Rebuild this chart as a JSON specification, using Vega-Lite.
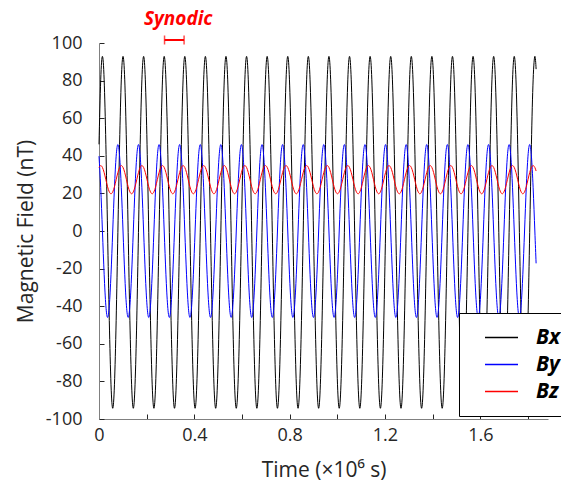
{
"$schema":"https://vega.github.io/schema/vega-lite/v6.json",
"width":449,"height":376,"autosize":"none",
"padding":{"left":99,"top":43,"right":13,"bottom":65},
"background":"white",
"config":{"view":{"stroke":null},"font":"Open Sans","axis":{"labelOverlap":false,"labelBound":false}},
"datasets":{"field":[
{"t":0,"Bx":46.1,"By":39.8,"Bz":33.8},{"t":0.0072,"Bx":80.4,"By":23,"Bz":34.8},{"t":0.0144,"Bx":92.9,"By":0,"Bz":33.8},{"t":0.0216,"Bx":80.4,"By":-23,"Bz":31.1},{"t":0.0288,"Bx":46.1,"By":-39.8,"Bz":27.3},{"t":0.036,"Bx":-0.7,"By":-46,"Bz":23.5},{"t":0.0432,"Bx":-47.5,"By":-39.8,"Bz":20.8},{"t":0.0504,"Bx":-81.8,"By":-23,"Bz":19.8},{"t":0.0576,"Bx":-94.3,"By":0,"Bz":20.8},{"t":0.0648,"Bx":-81.8,"By":23,"Bz":23.5},{"t":0.072,"Bx":-47.5,"By":39.8,"Bz":27.3},{"t":0.0792,"Bx":-0.7,"By":46,"Bz":31.1},
{"t":0.0864,"Bx":46.1,"By":39.8,"Bz":33.8},{"t":0.0936,"Bx":80.4,"By":23,"Bz":34.8},{"t":0.1008,"Bx":92.9,"By":0,"Bz":33.8},{"t":0.108,"Bx":80.4,"By":-23,"Bz":31.1},{"t":0.1152,"Bx":46.1,"By":-39.8,"Bz":27.3},{"t":0.1224,"Bx":-0.7,"By":-46,"Bz":23.5},{"t":0.1296,"Bx":-47.5,"By":-39.8,"Bz":20.8},{"t":0.1368,"Bx":-81.8,"By":-23,"Bz":19.8},{"t":0.144,"Bx":-94.3,"By":0,"Bz":20.8},{"t":0.1512,"Bx":-81.8,"By":23,"Bz":23.5},{"t":0.1584,"Bx":-47.5,"By":39.8,"Bz":27.3},{"t":0.1656,"Bx":-0.7,"By":46,"Bz":31.1},
{"t":0.1728,"Bx":46.1,"By":39.8,"Bz":33.8},{"t":0.18,"Bx":80.4,"By":23,"Bz":34.8},{"t":0.1872,"Bx":92.9,"By":0,"Bz":33.8},{"t":0.1944,"Bx":80.4,"By":-23,"Bz":31.1},{"t":0.2016,"Bx":46.1,"By":-39.8,"Bz":27.3},{"t":0.2088,"Bx":-0.7,"By":-46,"Bz":23.5},{"t":0.216,"Bx":-47.5,"By":-39.8,"Bz":20.8},{"t":0.2232,"Bx":-81.8,"By":-23,"Bz":19.8},{"t":0.2304,"Bx":-94.3,"By":0,"Bz":20.8},{"t":0.2376,"Bx":-81.8,"By":23,"Bz":23.5},{"t":0.2448,"Bx":-47.5,"By":39.8,"Bz":27.3},{"t":0.252,"Bx":-0.7,"By":46,"Bz":31.1},
{"t":0.2592,"Bx":46.1,"By":39.8,"Bz":33.8},{"t":0.2664,"Bx":80.4,"By":23,"Bz":34.8},{"t":0.2736,"Bx":92.9,"By":0,"Bz":33.8},{"t":0.2808,"Bx":80.4,"By":-23,"Bz":31.1},{"t":0.288,"Bx":46.1,"By":-39.8,"Bz":27.3},{"t":0.2952,"Bx":-0.7,"By":-46,"Bz":23.5},{"t":0.3024,"Bx":-47.5,"By":-39.8,"Bz":20.8},{"t":0.3096,"Bx":-81.8,"By":-23,"Bz":19.8},{"t":0.3168,"Bx":-94.3,"By":0,"Bz":20.8},{"t":0.324,"Bx":-81.8,"By":23,"Bz":23.5},{"t":0.3312,"Bx":-47.5,"By":39.8,"Bz":27.3},{"t":0.3384,"Bx":-0.7,"By":46,"Bz":31.1},
{"t":0.3456,"Bx":46.1,"By":39.8,"Bz":33.8},{"t":0.3528,"Bx":80.4,"By":23,"Bz":34.8},{"t":0.36,"Bx":92.9,"By":0,"Bz":33.8},{"t":0.3672,"Bx":80.4,"By":-23,"Bz":31.1},{"t":0.3744,"Bx":46.1,"By":-39.8,"Bz":27.3},{"t":0.3816,"Bx":-0.7,"By":-46,"Bz":23.5},{"t":0.3888,"Bx":-47.5,"By":-39.8,"Bz":20.8},{"t":0.396,"Bx":-81.8,"By":-23,"Bz":19.8},{"t":0.4032,"Bx":-94.3,"By":0,"Bz":20.8},{"t":0.4104,"Bx":-81.8,"By":23,"Bz":23.5},{"t":0.4176,"Bx":-47.5,"By":39.8,"Bz":27.3},{"t":0.4248,"Bx":-0.7,"By":46,"Bz":31.1},
{"t":0.432,"Bx":46.1,"By":39.8,"Bz":33.8},{"t":0.4392,"Bx":80.4,"By":23,"Bz":34.8},{"t":0.4464,"Bx":92.9,"By":0,"Bz":33.8},{"t":0.4536,"Bx":80.4,"By":-23,"Bz":31.1},{"t":0.4608,"Bx":46.1,"By":-39.8,"Bz":27.3},{"t":0.468,"Bx":-0.7,"By":-46,"Bz":23.5},{"t":0.4752,"Bx":-47.5,"By":-39.8,"Bz":20.8},{"t":0.4824,"Bx":-81.8,"By":-23,"Bz":19.8},{"t":0.4896,"Bx":-94.3,"By":0,"Bz":20.8},{"t":0.4968,"Bx":-81.8,"By":23,"Bz":23.5},{"t":0.504,"Bx":-47.5,"By":39.8,"Bz":27.3},{"t":0.5112,"Bx":-0.7,"By":46,"Bz":31.1},
{"t":0.5184,"Bx":46.1,"By":39.8,"Bz":33.8},{"t":0.5256,"Bx":80.4,"By":23,"Bz":34.8},{"t":0.5328,"Bx":92.9,"By":0,"Bz":33.8},{"t":0.54,"Bx":80.4,"By":-23,"Bz":31.1},{"t":0.5472,"Bx":46.1,"By":-39.8,"Bz":27.3},{"t":0.5544,"Bx":-0.7,"By":-46,"Bz":23.5},{"t":0.5616,"Bx":-47.5,"By":-39.8,"Bz":20.8},{"t":0.5688,"Bx":-81.8,"By":-23,"Bz":19.8},{"t":0.576,"Bx":-94.3,"By":0,"Bz":20.8},{"t":0.5832,"Bx":-81.8,"By":23,"Bz":23.5},{"t":0.5904,"Bx":-47.5,"By":39.8,"Bz":27.3},{"t":0.5976,"Bx":-0.7,"By":46,"Bz":31.1},
{"t":0.6048,"Bx":46.1,"By":39.8,"Bz":33.8},{"t":0.612,"Bx":80.4,"By":23,"Bz":34.8},{"t":0.6192,"Bx":92.9,"By":0,"Bz":33.8},{"t":0.6264,"Bx":80.4,"By":-23,"Bz":31.1},{"t":0.6336,"Bx":46.1,"By":-39.8,"Bz":27.3},{"t":0.6408,"Bx":-0.7,"By":-46,"Bz":23.5},{"t":0.648,"Bx":-47.5,"By":-39.8,"Bz":20.8},{"t":0.6552,"Bx":-81.8,"By":-23,"Bz":19.8},{"t":0.6624,"Bx":-94.3,"By":0,"Bz":20.8},{"t":0.6696,"Bx":-81.8,"By":23,"Bz":23.5},{"t":0.6768,"Bx":-47.5,"By":39.8,"Bz":27.3},{"t":0.684,"Bx":-0.7,"By":46,"Bz":31.1},
{"t":0.6912,"Bx":46.1,"By":39.8,"Bz":33.8},{"t":0.6984,"Bx":80.4,"By":23,"Bz":34.8},{"t":0.7056,"Bx":92.9,"By":0,"Bz":33.8},{"t":0.7128,"Bx":80.4,"By":-23,"Bz":31.1},{"t":0.72,"Bx":46.1,"By":-39.8,"Bz":27.3},{"t":0.7272,"Bx":-0.7,"By":-46,"Bz":23.5},{"t":0.7344,"Bx":-47.5,"By":-39.8,"Bz":20.8},{"t":0.7416,"Bx":-81.8,"By":-23,"Bz":19.8},{"t":0.7488,"Bx":-94.3,"By":0,"Bz":20.8},{"t":0.756,"Bx":-81.8,"By":23,"Bz":23.5},{"t":0.7632,"Bx":-47.5,"By":39.8,"Bz":27.3},{"t":0.7704,"Bx":-0.7,"By":46,"Bz":31.1},
{"t":0.7776,"Bx":46.1,"By":39.8,"Bz":33.8},{"t":0.7848,"Bx":80.4,"By":23,"Bz":34.8},{"t":0.792,"Bx":92.9,"By":0,"Bz":33.8},{"t":0.7992,"Bx":80.4,"By":-23,"Bz":31.1},{"t":0.8064,"Bx":46.1,"By":-39.8,"Bz":27.3},{"t":0.8136,"Bx":-0.7,"By":-46,"Bz":23.5},{"t":0.8208,"Bx":-47.5,"By":-39.8,"Bz":20.8},{"t":0.828,"Bx":-81.8,"By":-23,"Bz":19.8},{"t":0.8352,"Bx":-94.3,"By":0,"Bz":20.8},{"t":0.8424,"Bx":-81.8,"By":23,"Bz":23.5},{"t":0.8496,"Bx":-47.5,"By":39.8,"Bz":27.3},{"t":0.8568,"Bx":-0.7,"By":46,"Bz":31.1},
{"t":0.864,"Bx":46.1,"By":39.8,"Bz":33.8},{"t":0.8712,"Bx":80.4,"By":23,"Bz":34.8},{"t":0.8784,"Bx":92.9,"By":0,"Bz":33.8},{"t":0.8856,"Bx":80.4,"By":-23,"Bz":31.1},{"t":0.8928,"Bx":46.1,"By":-39.8,"Bz":27.3},{"t":0.9,"Bx":-0.7,"By":-46,"Bz":23.5},{"t":0.9072,"Bx":-47.5,"By":-39.8,"Bz":20.8},{"t":0.9144,"Bx":-81.8,"By":-23,"Bz":19.8},{"t":0.9216,"Bx":-94.3,"By":0,"Bz":20.8},{"t":0.9288,"Bx":-81.8,"By":23,"Bz":23.5},{"t":0.936,"Bx":-47.5,"By":39.8,"Bz":27.3},{"t":0.9432,"Bx":-0.7,"By":46,"Bz":31.1},
{"t":0.9504,"Bx":46.1,"By":39.8,"Bz":33.8},{"t":0.9576,"Bx":80.4,"By":23,"Bz":34.8},{"t":0.9648,"Bx":92.9,"By":0,"Bz":33.8},{"t":0.972,"Bx":80.4,"By":-23,"Bz":31.1},{"t":0.9792,"Bx":46.1,"By":-39.8,"Bz":27.3},{"t":0.9864,"Bx":-0.7,"By":-46,"Bz":23.5},{"t":0.9936,"Bx":-47.5,"By":-39.8,"Bz":20.8},{"t":1.0008,"Bx":-81.8,"By":-23,"Bz":19.8},{"t":1.008,"Bx":-94.3,"By":0,"Bz":20.8},{"t":1.0152,"Bx":-81.8,"By":23,"Bz":23.5},{"t":1.0224,"Bx":-47.5,"By":39.8,"Bz":27.3},{"t":1.0296,"Bx":-0.7,"By":46,"Bz":31.1},
{"t":1.0368,"Bx":46.1,"By":39.8,"Bz":33.8},{"t":1.044,"Bx":80.4,"By":23,"Bz":34.8},{"t":1.0512,"Bx":92.9,"By":0,"Bz":33.8},{"t":1.0584,"Bx":80.4,"By":-23,"Bz":31.1},{"t":1.0656,"Bx":46.1,"By":-39.8,"Bz":27.3},{"t":1.0728,"Bx":-0.7,"By":-46,"Bz":23.5},{"t":1.08,"Bx":-47.5,"By":-39.8,"Bz":20.8},{"t":1.0872,"Bx":-81.8,"By":-23,"Bz":19.8},{"t":1.0944,"Bx":-94.3,"By":0,"Bz":20.8},{"t":1.1016,"Bx":-81.8,"By":23,"Bz":23.5},{"t":1.1088,"Bx":-47.5,"By":39.8,"Bz":27.3},{"t":1.116,"Bx":-0.7,"By":46,"Bz":31.1},
{"t":1.1232,"Bx":46.1,"By":39.8,"Bz":33.8},{"t":1.1304,"Bx":80.4,"By":23,"Bz":34.8},{"t":1.1376,"Bx":92.9,"By":0,"Bz":33.8},{"t":1.1448,"Bx":80.4,"By":-23,"Bz":31.1},{"t":1.152,"Bx":46.1,"By":-39.8,"Bz":27.3},{"t":1.1592,"Bx":-0.7,"By":-46,"Bz":23.5},{"t":1.1664,"Bx":-47.5,"By":-39.8,"Bz":20.8},{"t":1.1736,"Bx":-81.8,"By":-23,"Bz":19.8},{"t":1.1808,"Bx":-94.3,"By":0,"Bz":20.8},{"t":1.188,"Bx":-81.8,"By":23,"Bz":23.5},{"t":1.1952,"Bx":-47.5,"By":39.8,"Bz":27.3},{"t":1.2024,"Bx":-0.7,"By":46,"Bz":31.1},
{"t":1.2096,"Bx":46.1,"By":39.8,"Bz":33.8},{"t":1.2168,"Bx":80.4,"By":23,"Bz":34.8},{"t":1.224,"Bx":92.9,"By":0,"Bz":33.8},{"t":1.2312,"Bx":80.4,"By":-23,"Bz":31.1},{"t":1.2384,"Bx":46.1,"By":-39.8,"Bz":27.3},{"t":1.2456,"Bx":-0.7,"By":-46,"Bz":23.5},{"t":1.2528,"Bx":-47.5,"By":-39.8,"Bz":20.8},{"t":1.26,"Bx":-81.8,"By":-23,"Bz":19.8},{"t":1.2672,"Bx":-94.3,"By":0,"Bz":20.8},{"t":1.2744,"Bx":-81.8,"By":23,"Bz":23.5},{"t":1.2816,"Bx":-47.5,"By":39.8,"Bz":27.3},{"t":1.2888,"Bx":-0.7,"By":46,"Bz":31.1},
{"t":1.296,"Bx":46.1,"By":39.8,"Bz":33.8},{"t":1.3032,"Bx":80.4,"By":23,"Bz":34.8},{"t":1.3104,"Bx":92.9,"By":0,"Bz":33.8},{"t":1.3176,"Bx":80.4,"By":-23,"Bz":31.1},{"t":1.3248,"Bx":46.1,"By":-39.8,"Bz":27.3},{"t":1.332,"Bx":-0.7,"By":-46,"Bz":23.5},{"t":1.3392,"Bx":-47.5,"By":-39.8,"Bz":20.8},{"t":1.3464,"Bx":-81.8,"By":-23,"Bz":19.8},{"t":1.3536,"Bx":-94.3,"By":0,"Bz":20.8},{"t":1.3608,"Bx":-81.8,"By":23,"Bz":23.5},{"t":1.368,"Bx":-47.5,"By":39.8,"Bz":27.3},{"t":1.3752,"Bx":-0.7,"By":46,"Bz":31.1},
{"t":1.3824,"Bx":46.1,"By":39.8,"Bz":33.8},{"t":1.3896,"Bx":80.4,"By":23,"Bz":34.8},{"t":1.3968,"Bx":92.9,"By":0,"Bz":33.8},{"t":1.404,"Bx":80.4,"By":-23,"Bz":31.1},{"t":1.4112,"Bx":46.1,"By":-39.8,"Bz":27.3},{"t":1.4184,"Bx":-0.7,"By":-46,"Bz":23.5},{"t":1.4256,"Bx":-47.5,"By":-39.8,"Bz":20.8},{"t":1.4328,"Bx":-81.8,"By":-23,"Bz":19.8},{"t":1.44,"Bx":-94.3,"By":0,"Bz":20.8},{"t":1.4472,"Bx":-81.8,"By":23,"Bz":23.5},{"t":1.4544,"Bx":-47.5,"By":39.8,"Bz":27.3},{"t":1.4616,"Bx":-0.7,"By":46,"Bz":31.1},
{"t":1.4688,"Bx":46.1,"By":39.8,"Bz":33.8},{"t":1.476,"Bx":80.4,"By":23,"Bz":34.8},{"t":1.4832,"Bx":92.9,"By":0,"Bz":33.8},{"t":1.4904,"Bx":80.4,"By":-23,"Bz":31.1},{"t":1.4976,"Bx":46.1,"By":-39.8,"Bz":27.3},{"t":1.5048,"Bx":-0.7,"By":-46,"Bz":23.5},{"t":1.512,"Bx":-47.5,"By":-39.8,"Bz":20.8},{"t":1.5192,"Bx":-81.8,"By":-23,"Bz":19.8},{"t":1.5264,"Bx":-94.3,"By":0,"Bz":20.8},{"t":1.5336,"Bx":-81.8,"By":23,"Bz":23.5},{"t":1.5408,"Bx":-47.5,"By":39.8,"Bz":27.3},{"t":1.548,"Bx":-0.7,"By":46,"Bz":31.1},
{"t":1.5552,"Bx":46.1,"By":39.8,"Bz":33.8},{"t":1.5624,"Bx":80.4,"By":23,"Bz":34.8},{"t":1.5696,"Bx":92.9,"By":0,"Bz":33.8},{"t":1.5768,"Bx":80.4,"By":-23,"Bz":31.1},{"t":1.584,"Bx":46.1,"By":-39.8,"Bz":27.3},{"t":1.5912,"Bx":-0.7,"By":-46,"Bz":23.5},{"t":1.5984,"Bx":-47.5,"By":-39.8,"Bz":20.8},{"t":1.6056,"Bx":-81.8,"By":-23,"Bz":19.8},{"t":1.6128,"Bx":-94.3,"By":0,"Bz":20.8},{"t":1.62,"Bx":-81.8,"By":23,"Bz":23.5},{"t":1.6272,"Bx":-47.5,"By":39.8,"Bz":27.3},{"t":1.6344,"Bx":-0.7,"By":46,"Bz":31.1},
{"t":1.6416,"Bx":46.1,"By":39.8,"Bz":33.8},{"t":1.6488,"Bx":80.4,"By":23,"Bz":34.8},{"t":1.656,"Bx":92.9,"By":0,"Bz":33.8},{"t":1.6632,"Bx":80.4,"By":-23,"Bz":31.1},{"t":1.6704,"Bx":46.1,"By":-39.8,"Bz":27.3},{"t":1.6776,"Bx":-0.7,"By":-46,"Bz":23.5},{"t":1.6848,"Bx":-47.5,"By":-39.8,"Bz":20.8},{"t":1.692,"Bx":-81.8,"By":-23,"Bz":19.8},{"t":1.6992,"Bx":-94.3,"By":0,"Bz":20.8},{"t":1.7064,"Bx":-81.8,"By":23,"Bz":23.5},{"t":1.7136,"Bx":-47.5,"By":39.8,"Bz":27.3},{"t":1.7208,"Bx":-0.7,"By":46,"Bz":31.1},
{"t":1.728,"Bx":46.1,"By":39.8,"Bz":33.8},{"t":1.7352,"Bx":80.4,"By":23,"Bz":34.8},{"t":1.7424,"Bx":92.9,"By":0,"Bz":33.8},{"t":1.7496,"Bx":80.4,"By":-23,"Bz":31.1},{"t":1.7568,"Bx":46.1,"By":-39.8,"Bz":27.3},{"t":1.764,"Bx":-0.7,"By":-46,"Bz":23.5},{"t":1.7712,"Bx":-47.5,"By":-39.8,"Bz":20.8},{"t":1.7784,"Bx":-81.8,"By":-23,"Bz":19.8},{"t":1.7856,"Bx":-94.3,"By":0,"Bz":20.8},{"t":1.7928,"Bx":-81.8,"By":23,"Bz":23.5},{"t":1.8,"Bx":-47.5,"By":39.8,"Bz":27.3},{"t":1.8072,"Bx":-0.7,"By":46,"Bz":31.1},
{"t":1.8144,"Bx":46.1,"By":39.8,"Bz":33.8},{"t":1.8216,"Bx":80.4,"By":23,"Bz":34.8},{"t":1.8288,"Bx":92.9,"By":0,"Bz":33.8},{"t":1.8341,"Bx":86.1,"By":-17.2,"Bz":31.9}
],
"synodic":[{"start":0.275,"end":0.357,"label":"Synodic"}]},
"layer":[
{"data":{"name":"field"},
 "transform":[{"fold":["Bx","By","Bz"],"as":["series","value"]}],
 "mark":{"type":"line","interpolate":"natural","strokeWidth":1},
 "encoding":{
  "x":{"field":"t","type":"quantitative","scale":{"domain":[0,1.884],"nice":false,"zero":false},
   "axis":{"title":"Time (×10⁶ s)","values":[0,0.2,0.4,0.6,0.8,1,1.2,1.4,1.6,1.8],"tickCount":20,"format":".1~f",
    "labelExpr":"round(datum.value*10) % 4 == 0 ? datum.label : ''",
    "grid":false,"tickSize":-5,"labelPadding":12,"labelFontSize":18,"labelColor":"#262626",
    "titleFontSize":21,"titleFontWeight":"normal","titleColor":"#262626","titlePadding":15,
    "domainColor":"#808080","tickColor":"#262626","labelFlush":false,"labelOverlap":false}},
  "y":{"field":"value","type":"quantitative","scale":{"domain":[-100,100],"nice":false},
   "axis":{"title":"Magnetic Field (nT)","values":[-100,-80,-60,-40,-20,0,20,40,60,80,100],"tickCount":20,
    "labelExpr":"toString(datum.value)","labelOverlap":false,
    "grid":false,"tickSize":-5,"labelPadding":22,"labelFontSize":18,"labelColor":"#262626",
    "titleFontSize":21,"titleFontWeight":"normal","titleColor":"#262626","titlePadding":9,
    "domainColor":"#808080","tickColor":"#262626"}},
  "color":{"field":"series","type":"nominal",
   "scale":{"domain":["Bx","By","Bz"],"range":["#000000","#0000ff","#ff0000"]},
   "legend":{"orient":"none","legendX":360,"legendY":270,"title":null,
    "symbolType":"M-3,0H3","symbolSize":121,"symbolStrokeWidth":1.5,
    "labelFontSize":21,"labelFontStyle":"italic","labelFontWeight":"bold","labelColor":"#000000",
    "fillColor":"#ffffff","strokeColor":"#000000","padding":14,"rowPadding":5,
    "symbolOffset":18,"labelOffset":24}}
 }},
{"data":{"name":"synodic"},
 "mark":{"type":"rule","color":"#ff0000","strokeWidth":2},
 "encoding":{"x":{"field":"start","type":"quantitative"},"x2":{"field":"end"},"y":{"datum":101.6,"type":"quantitative"}}},
{"data":{"name":"synodic"},
 "mark":{"type":"tick","orient":"vertical","color":"#ff0000","size":9,"thickness":1.5},
 "encoding":{"x":{"field":"start","type":"quantitative"},"y":{"datum":101.6,"type":"quantitative"}}},
{"data":{"name":"synodic"},
 "mark":{"type":"tick","orient":"vertical","color":"#ff0000","size":9,"thickness":1.5},
 "encoding":{"x":{"field":"end","type":"quantitative"},"y":{"datum":101.6,"type":"quantitative"}}},
{"data":{"name":"synodic"},
 "mark":{"type":"text","color":"#ff0000","fontSize":19,"fontStyle":"italic","fontWeight":"bold","baseline":"alphabetic","align":"center","dx":4},
 "encoding":{"text":{"field":"label"},"x":{"datum":0.3155,"type":"quantitative"},"y":{"datum":109.6,"type":"quantitative"}}}
]
}
